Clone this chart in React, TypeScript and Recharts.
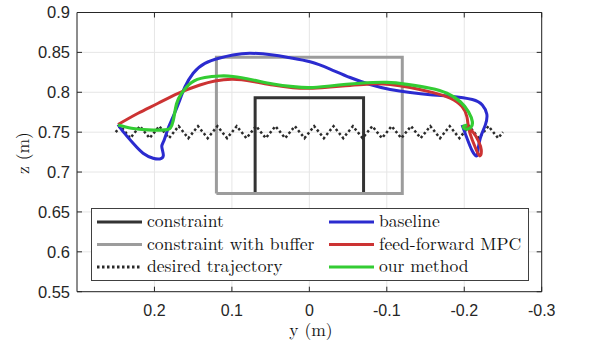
import { LineChart, Line, XAxis, YAxis, CartesianGrid, Legend } from 'recharts';

// axis ticks
const yTicks = [0.2, 0.1, 0, -0.1, -0.2, -0.3];
const zTicks = [0.55, 0.6, 0.65, 0.7, 0.75, 0.8, 0.85, 0.9];

// legend order (two columns of three)
const legendOrder = [
  'constraint',
  'constraint with buffer',
  'desired trajectory',
  'baseline',
  'feed-forward MPC',
  'our method',
];

// obstacle boxes
const constraintY = [0.07, 0.07, -0.07, -0.07, 0.07];
const constraintZ = [0.673, 0.793, 0.793, 0.673, 0.673];
const bufferY = [0.12, 0.12, -0.12, -0.12, 0.12];
const bufferZ = [0.673, 0.844, 0.844, 0.673, 0.673];

// desired zigzag reference
const desiredY = [
  0.25, 0.24375, 0.23125, 0.21875, 0.20625, 0.19375, 0.18125, 0.16875, 0.15625, 0.14375, 0.13125,
  0.11875, 0.10625, 0.09375, 0.08125, 0.06875, 0.05625, 0.04375, 0.03125, 0.01875, 0.00625,
  -0.00625, -0.01875, -0.03125, -0.04375, -0.05625, -0.06875, -0.08125, -0.09375, -0.10625, -0.11875,
  -0.13125, -0.14375, -0.15625, -0.16875, -0.18125, -0.19375, -0.20625, -0.21875, -0.23125, -0.24375, -0.25,
];
const desiredZ = [
  0.75, 0.7575, 0.7425, 0.7575, 0.7425, 0.7575, 0.7425, 0.7575, 0.7425, 0.7575, 0.7425,
  0.7575, 0.7425, 0.7575, 0.7425, 0.7575, 0.7425, 0.7575, 0.7425, 0.7575, 0.7425,
  0.7575, 0.7425, 0.7575, 0.7425, 0.7575, 0.7425, 0.7575, 0.7425, 0.7575, 0.7425,
  0.7575, 0.7425, 0.7575, 0.7425, 0.7575, 0.7425, 0.7575, 0.7425, 0.7575, 0.7425, 0.75,
];

// baseline
const blueY = [
  0.247, 0.2405, 0.2276, 0.2147, 0.2017, 0.1931, 0.1885, 0.1905, 0.1879, 0.1823, 0.1759, 0.1672,
  0.1607, 0.15, 0.1349, 0.1155, 0.0987, 0.0767, 0.0469, 0.025, -0.0009, -0.0268, -0.0526, -0.0785,
  -0.1044, -0.1302, -0.1561, -0.1819, -0.2104, -0.2233, -0.2291, -0.2272, -0.2207, -0.2175, -0.2156,
  -0.2104, -0.2039, -0.1991, -0.1971,
];
const blueZ = [
  0.7596, 0.7506, 0.7361, 0.7236, 0.7173, 0.7164, 0.7208, 0.7315, 0.739, 0.7549, 0.7694, 0.7904,
  0.8066, 0.8238, 0.8363, 0.843, 0.8467, 0.8489, 0.8467, 0.8432, 0.8382, 0.8291, 0.8185, 0.8098,
  0.8035, 0.7996, 0.797, 0.7951, 0.791, 0.7841, 0.7728, 0.759, 0.7424, 0.7258, 0.7202,
  0.7264, 0.7415, 0.754, 0.759,
];

// feed-forward MPC
const redY = [
  0.247, 0.2211, 0.1953, 0.1694, 0.1413, 0.1219, 0.0987, 0.0728, 0.0469, 0.0211, -0.0009, -0.0268,
  -0.0526, -0.0785, -0.1044, -0.1302, -0.16, -0.1819, -0.1971, -0.2035, -0.2056, -0.2104, -0.2162,
  -0.2201, -0.222, -0.2182, -0.2117, -0.2039, -0.1975,
];
const redZ = [
  0.7596, 0.7737, 0.7862, 0.7987, 0.8091, 0.8142, 0.8163, 0.8135, 0.8091, 0.8058, 0.805, 0.8066,
  0.8085, 0.8104, 0.8098, 0.806, 0.7995, 0.7925, 0.782, 0.769, 0.7553, 0.7402, 0.7264,
  0.7202, 0.7277, 0.739, 0.7496, 0.7553, 0.7571,
];

// our method
const greenY = [
  0.247, 0.2297, 0.2082, 0.1866, 0.1795, 0.1759, 0.1715, 0.165, 0.1521, 0.1349, 0.1155, 0.0987,
  0.0728, 0.0469, 0.0211, -0.0009, -0.0268, -0.0654, -0.1001, -0.126, -0.1561, -0.1777, -0.1949,
  -0.2056, -0.2104, -0.2085, -0.202, -0.1988, -0.2039,
];
const greenZ = [
  0.759, 0.7549, 0.7528, 0.7528, 0.7553, 0.764, 0.7853, 0.7987, 0.8123, 0.8185, 0.8204, 0.8198,
  0.8154, 0.8104, 0.807, 0.8058, 0.8079, 0.8113, 0.8125, 0.81, 0.805, 0.7987, 0.7882,
  0.7753, 0.7634, 0.7559, 0.754, 0.7571, 0.759,
];

const pts = (ys: number[], zs: number[]) => ys.map((y, i) => ({ y, z: zs[i] }));

const AXIS = '#262626';
const SERIF = '"Latin Modern Roman", "Liberation Serif", serif';
const SANS = '"Liberation Sans", Arial, sans-serif';

function renderLegend(props: any) {
  const payload = props.payload ?? [];
  const items = legendOrder
    .map((name) => payload.find((p: any) => p.value === name))
    .filter(Boolean);
  return (
    <svg width={438} height={73} style={{ display: 'block' }}>
      <rect x={0.5} y={0.5} width={437} height={72} fill="#fff" stroke="#404040" />
      {items.map((it: any, i: number) => {
        const col = Math.floor(i / 3);
        const row = i % 3;
        const lx = col ? 238 : 6;
        const tx = col ? 288 : 56;
        const cy = 14 + row * 22.5;
        return (
          <g key={i}>
            <line
              x1={lx}
              x2={lx + 45}
              y1={cy}
              y2={cy}
              stroke={it.color}
              strokeWidth={3}
              strokeDasharray={it.value === 'desired trajectory' ? '2.5 2.5' : undefined}
            />
            <text x={tx} y={cy + 5} style={{ fontFamily: SERIF, fontSize: 17.6 }} fill="#111">
              {it.value}
            </text>
          </g>
        );
      })}
    </svg>
  );
}

export default function App() {
  return (
    <div style={{ position: 'absolute', left: 0, top: 0 }}>
      <LineChart width={598} height={345} margin={{ top: 11.5, right: 55.3, left: 0, bottom: 0 }}>
        <CartesianGrid stroke="#e6e6e6" />
        <XAxis
          dataKey="y"
          type="number"
          domain={[-0.3, 0.3]}
          reversed
          allowDataOverflow
          ticks={yTicks}
          interval={0}
          height={53.3}
          stroke={AXIS}
          tickSize={-5}
          tickMargin={18}
          tick={{ fill: AXIS, fontSize: 16, fontFamily: SANS }}
          label={{
            content: () => (
              <text x={311} y={336} textAnchor="middle" style={{ fontFamily: SERIF, fontSize: 17.5 }} fill="#111">
                y (m)
              </text>
            ),
          }}
        />
        <XAxis
          xAxisId="top"
          orientation="top"
          dataKey="y"
          type="number"
          domain={[-0.3, 0.3]}
          reversed
          allowDataOverflow
          ticks={yTicks}
          height={1}
          stroke={AXIS}
          tickSize={-5}
          tick={() => <g />}
        />
        <YAxis
          type="number"
          domain={[0.55, 0.9]}
          allowDataOverflow
          ticks={zTicks}
          interval={0}
          width={77}
          stroke={AXIS}
          tickSize={-5}
          tickMargin={12}
          tick={{ fill: AXIS, fontSize: 16.5, fontFamily: SANS }}
          label={{
            content: () => (
              <text
                x={21}
                y={153}
                transform="rotate(-90 21 153)"
                textAnchor="middle"
                dominantBaseline="central"
                style={{ fontFamily: SERIF, fontSize: 17.5 }}
                fill="#111"
              >
                z (m)
              </text>
            ),
          }}
        />
        <YAxis
          yAxisId="right"
          orientation="right"
          type="number"
          domain={[0.55, 0.9]}
          allowDataOverflow
          ticks={zTicks}
          width={1}
          stroke={AXIS}
          tickSize={-5}
          tick={() => <g />}
        />
        <Line
          name="constraint"
          data={pts(constraintY, constraintZ)}
          dataKey="z"
          type="linear"
          stroke="#333333"
          strokeWidth={3}
          dot={false}
          activeDot={false}
          isAnimationActive={false}
        />
        <Line
          name="constraint with buffer"
          data={pts(bufferY, bufferZ)}
          dataKey="z"
          type="linear"
          stroke="#9c9c9c"
          strokeWidth={3}
          dot={false}
          activeDot={false}
          isAnimationActive={false}
        />
        <Line
          name="desired trajectory"
          data={pts(desiredY, desiredZ)}
          dataKey="z"
          type="linear"
          stroke="#2a2a2a"
          strokeWidth={2.5}
          strokeDasharray="2.5 2.5"
          dot={false}
          activeDot={false}
          isAnimationActive={false}
        />
        <Line
          name="baseline"
          data={pts(blueY, blueZ)}
          dataKey="z"
          type="natural"
          stroke="#2b2bcf"
          strokeWidth={3}
          dot={false}
          activeDot={false}
          isAnimationActive={false}
        />
        <Line
          name="feed-forward MPC"
          data={pts(redY, redZ)}
          dataKey="z"
          type="natural"
          stroke="#cc3333"
          strokeWidth={3}
          dot={false}
          activeDot={false}
          isAnimationActive={false}
        />
        <Line
          name="our method"
          data={pts(greenY, greenZ)}
          dataKey="z"
          type="natural"
          stroke="#33cc33"
          strokeWidth={3.2}
          dot={false}
          activeDot={false}
          isAnimationActive={false}
        />
        <Legend
          layout="vertical"
          align="center"
          verticalAlign="middle"
          width={438}
          height={73}
          wrapperStyle={{ left: 91, top: 208, width: 438, height: 73 }}
          content={renderLegend}
        />
      </LineChart>
    </div>
  );
}
